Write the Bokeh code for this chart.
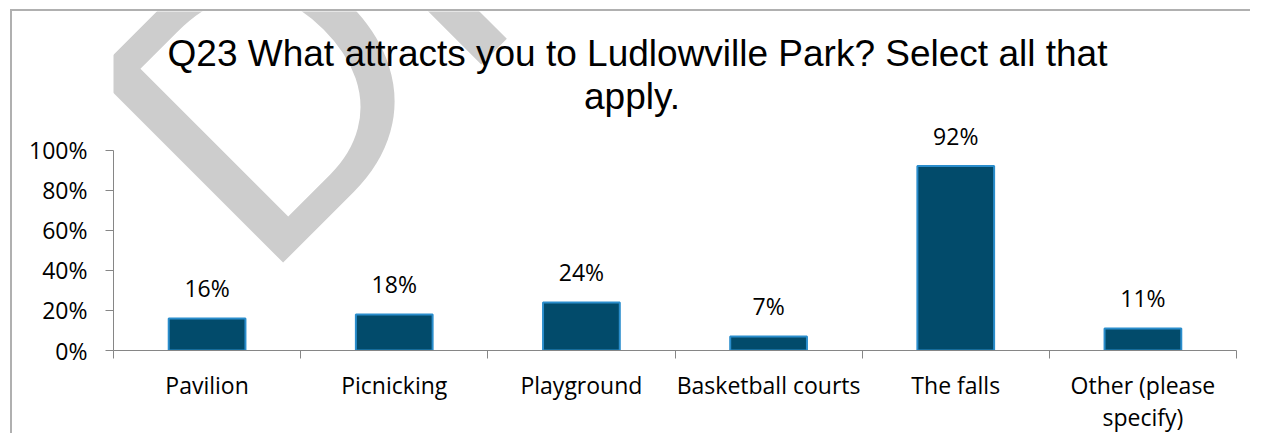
import math
from bokeh.plotting import figure
from bokeh.models import (Range1d, FixedTicker, CustomJSTickFormatter,
                          ColumnDataSource, NumeralTickFormatter)
from bokeh.embed import file_html
from bokeh.resources import INLINE
from bokeh.core.properties import value

# ---------------- data ----------------
categories = ["Pavilion", "Picnicking", "Playground", "Basketball courts",
              "The falls", "Other (please specify)"]
tick_labels = ["Pavilion", "Picnicking", "Playground", "Basketball courts",
               "The falls", "Other (please\nspecify)"]
values = [0.16, 0.18, 0.24, 0.07, 0.92, 0.11]
value_labels = ["16%", "18%", "24%", "7%", "92%", "11%"]
y_ticks = [0.0, 0.2, 0.4, 0.6, 0.8, 1.0]
title_lines = ["Q23 What attracts you to Ludlowville Park? Select all that", "apply."]
watermark = "DRAFT"

# ---------------- layout (pixels) ----------------
OX, OY = 12, 11                   # canvas origin in the page (margin + 2px border)
W, H = 1240, 424
FRAME_L = 113 - OX                # y axis position (canvas px)
FRAME_B = 351 - OY                # x axis position (canvas px)
AXIS_R = 1236 - OX                # last category boundary
PX_PER_UNIT_Y = 201.0
n = len(categories)
px_per_cat = (AXIS_R - FRAME_L) / n

def dx(img_px):   # page px -> data x
    return (img_px - OX - FRAME_L) / px_per_cat

def dy(img_py):   # page px -> data y
    return (FRAME_B - (img_py - OY)) / PX_PER_UNIT_Y

FONT = "Open Sans"
FS = "23px"
AXIS_COLOR = "#868686"

p = figure(width=W, height=H, output_backend="svg", toolbar_location=None,
           title_location=None,
           x_range=Range1d(0, (W - FRAME_L) / px_per_cat),
           y_range=Range1d(0, FRAME_B / PX_PER_UNIT_Y),
           min_border_left=FRAME_L, min_border_right=0,
           min_border_top=0, min_border_bottom=H - FRAME_B)
p.outline_line_color = None
p.background_fill_color = "white"
p.border_fill_color = "white"
p.xgrid.visible = False
p.ygrid.visible = False
p.styles = {"margin-left": "10px", "margin-top": "9px",
            "border-top": "2px solid #B0B0B0", "border-left": "2px solid #B0B0B0",
            "border-right": "none", "border-bottom": "none"}

# watermark (anchor compensated for renderer baseline shift)
p.text(x=[dx(165)], y=[dy(190)], text=[watermark], angle=math.pi / 4,
       text_font=value("Liberation Sans"), text_font_size="388px",
       text_color="#CDCDCD", text_align="left", text_baseline="alphabetic")

# title
p.text(x=[dx(637), dx(631.5)], y=[dy(53), dy(96)], text=title_lines,
       text_font=value("Liberation Sans"), text_font_size="37px",
       text_color="black", text_align="center", text_baseline="alphabetic")

# bars
centers = [i + 0.5 for i in range(n)]
src = ColumnDataSource(dict(x=centers, top=values, lab=value_labels))
p.vbar(x="x", top="top", width=0.41, source=src, fill_color="#024B6B",
       line_color="#2A8DCC", line_width=2)
p.text(x="x", y="top", text="lab", source=src, text_align="center",
       text_baseline="alphabetic", y_offset=-30, text_font=value(FONT),
       text_font_size=FS, text_color="black")

# y axis
ya = p.yaxis[0]
ya.ticker = FixedTicker(ticks=y_ticks)
ya.formatter = NumeralTickFormatter(format="0%")
ya.bounds = (0, 1)
ya.major_tick_out = 8
ya.major_tick_in = 0
ya.minor_tick_out = 0
ya.minor_tick_in = 0
ya.axis_line_color = AXIS_COLOR
ya.major_tick_line_color = AXIS_COLOR
ya.major_label_text_font = FONT
ya.major_label_text_font_size = FS
ya.major_label_text_color = "black"
ya.major_label_standoff = 18

# x axis
xa = p.xaxis[0]
xa.ticker = FixedTicker(ticks=centers, minor_ticks=list(range(n + 1)))
xa.formatter = CustomJSTickFormatter(args=dict(labels=tick_labels),
                                     code="return labels[Math.round(tick - 0.5)];")
xa.bounds = (0, n)
xa.major_tick_out = 0
xa.major_tick_in = 0
xa.minor_tick_out = 8
xa.minor_tick_in = 0
xa.minor_tick_line_color = AXIS_COLOR
xa.axis_line_color = AXIS_COLOR
xa.major_label_text_font = FONT
xa.major_label_text_font_size = FS
xa.major_label_text_color = "black"
xa.major_label_text_line_height = 1.0
xa.major_label_standoff = 10

open("out.html", "w").write(file_html(p, INLINE))
